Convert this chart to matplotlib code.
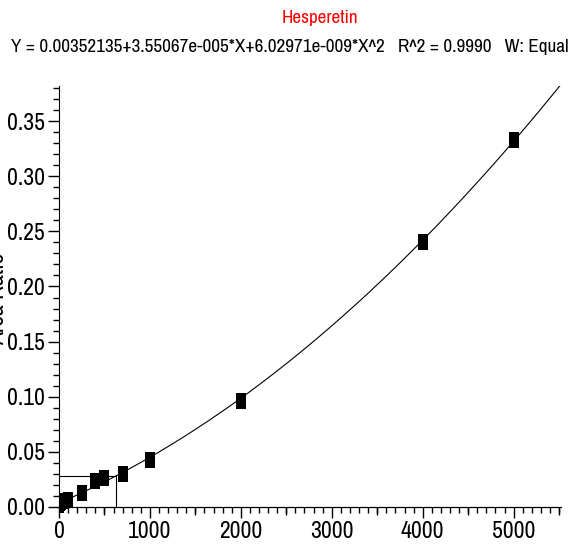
import numpy as np
import matplotlib.pyplot as plt
from matplotlib.ticker import MultipleLocator

plt.rcParams['font.family'] = ['Arial Narrow', 'Liberation Sans Narrow', 'Archivo Narrow',
                               'PT Sans Narrow', 'Roboto Condensed', 'Liberation Sans', 'DejaVu Sans']

# calibration standards (concentration, area ratio)
conc = [0, 10, 25, 50, 100, 250, 400, 500, 700, 1000, 2000, 4000, 5000]
ratio = [0.0020, 0.0035, 0.0045, 0.0050, 0.0060, 0.0125, 0.0235, 0.0265, 0.0295, 0.0430, 0.0960, 0.2400, 0.3330]

# fit coefficients from the header line
coef = [0.00352135, 3.55067e-005, 6.02971e-009]
sample_x = 630
sample_y = 0.0283

fig = plt.figure(figsize=(5.78, 5.54), dpi=100)
ax = fig.add_axes([0.102, 0.075, 0.8685, 0.770])

xs = np.linspace(0, 5520, 400)
ax.plot(xs, coef[0] + coef[1] * xs + coef[2] * xs ** 2, color='black', lw=0.8)

rect = [(-0.625, -1), (0.625, -1), (0.625, 1), (-0.625, 1), (-0.625, -1)]
ax.plot(conc, ratio, ls='none', marker=rect, ms=11.5, mew=0, color='black')

ax.plot([0, sample_x, sample_x], [sample_y, sample_y, 0], color='black', lw=0.8)

ymin, ymax = -0.005, 0.382
ax.set_xlim(0, 5520)
ax.set_ylim(ymin, ymax)
ax.spines['top'].set_visible(False)
ax.spines['right'].set_visible(False)
ax.spines['bottom'].set_position(('data', 0))
ax.xaxis.set_major_locator(MultipleLocator(1000))
ax.xaxis.set_minor_locator(MultipleLocator(100))
ax.yaxis.set_major_locator(MultipleLocator(0.05))
ax.yaxis.set_minor_locator(MultipleLocator(0.01))
ax.yaxis.set_major_formatter(plt.FormatStrFormatter('%.2f'))
ax.tick_params(which='major', length=8, width=1, labelsize=17, pad=2)
ax.tick_params(which='minor', length=4, width=1)

# medium ticks at the half-thousands
sec = ax.secondary_xaxis(-ymin / (ymax - ymin))
sec.set_xticks(np.arange(500, 5520, 1000), labels=[])
sec.tick_params(length=6, width=1)

ax.set_ylabel('Area Ratio', fontsize=17)
ax.yaxis.set_label_coords(-0.102, 0.5)

fig.text(0.554, 0.967, 'Hesperetin', color='red', fontsize=13.8, ha='center', va='center')
fig.text(0.502, 0.915,
         'Y = 0.00352135+3.55067e-005*X+6.02971e-009*X^2   R^2 = 0.9990   W: Equal',
         fontsize=13.8, ha='center', va='center')

fig.savefig('out.png', dpi=100)
